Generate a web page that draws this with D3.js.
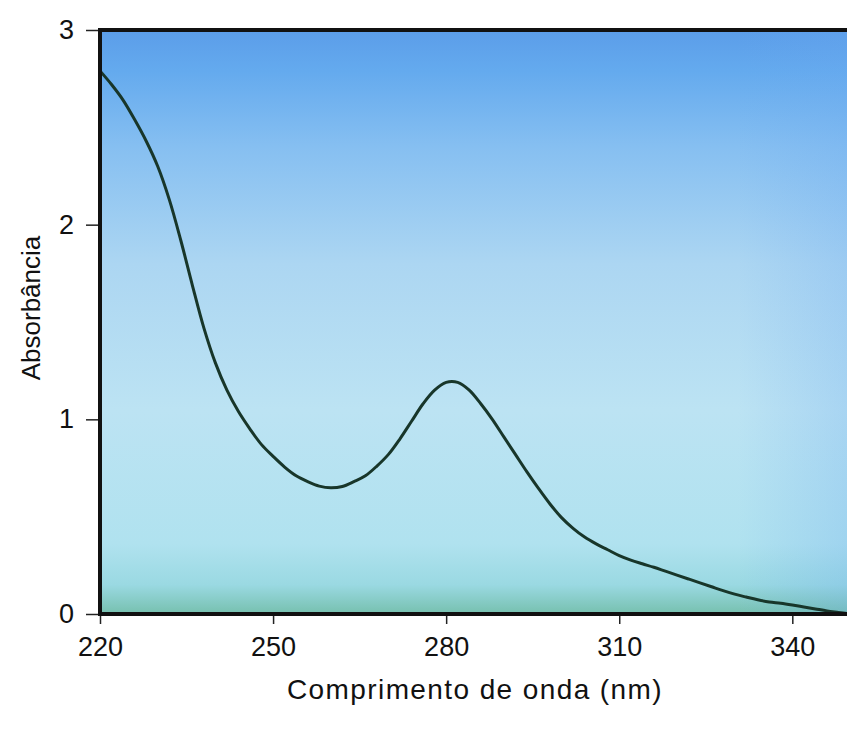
<!DOCTYPE html>
<html>
<head>
<meta charset="utf-8">
<script src="https://cdn.jsdelivr.net/npm/d3@7"></script>
<style>
  body { margin: 0; background: #fff; }
  text { font-family: "Liberation Sans", Arial, sans-serif; fill: #111; }
</style>
</head>
<body>
<div id="chart"></div>
<script>
// wavelengths (nm) and absorbance
var wavelength = [220, 222, 224, 226, 228, 230, 232, 234, 236, 238, 240, 242, 244, 246, 248,
    250, 252, 254, 256, 258, 260, 262, 264, 266, 268, 270, 272, 274, 276, 278,
    280, 282, 284, 286, 288, 290, 292, 294, 296, 298, 300, 302, 304, 306, 308,
    310, 312, 314, 316, 318, 320, 322, 324, 326, 328, 330, 332, 334, 336, 338,
    340, 342, 344, 346, 348, 350];
var absorbance = [2.79, 2.72, 2.64, 2.54, 2.43, 2.30, 2.13, 1.92, 1.69, 1.47, 1.29, 1.15, 1.04, 0.95, 0.87,
    0.81, 0.755, 0.71, 0.68, 0.657, 0.648, 0.655, 0.68, 0.71, 0.76, 0.82, 0.90, 0.99, 1.08, 1.15,
    1.19, 1.19, 1.15, 1.08, 1.00, 0.91, 0.82, 0.73, 0.645, 0.565, 0.495, 0.44, 0.395, 0.36, 0.33,
    0.30, 0.277, 0.258, 0.24, 0.22, 0.20, 0.18, 0.16, 0.14, 0.12, 0.102, 0.087, 0.073, 0.062, 0.055,
    0.046, 0.036, 0.026, 0.016, 0.008, 0];
var xTicks = [220, 250, 280, 310, 340];
var yTicks = [0, 1, 2, 3];

var W = 847, H = 732;
var margin = {top: 30, right: -3, bottom: 118, left: 100},
    width = W - margin.left - margin.right,
    height = H - margin.top - margin.bottom;

var data = wavelength.map(function (w, i) { return {x: w, y: absorbance[i]}; });

var x = d3.scaleLinear().domain([220, 350]).range([0, width]);
var y = d3.scaleLinear().domain([0, 3]).range([height, 0]);

var svg = d3.select("#chart").append("svg")
    .attr("width", W)
    .attr("height", H);

// plot background: blue on top fading to pale cyan, teal band at the bottom
var defs = svg.append("defs");
var grad = defs.append("linearGradient")
    .attr("id", "bg").attr("x1", 0).attr("y1", 0).attr("x2", 0).attr("y2", 1);
[[0, "#5b9de9"], [0.07, "#64aaee"], [0.2, "#86bff1"], [0.4, "#acd6f2"],
 [0.65, "#bce3f3"], [0.88, "#b0e2ef"], [0.95, "#9ad9e2"], [1, "#76c0ae"]]
    .forEach(function (s) {
        grad.append("stop").attr("offset", s[0]).attr("stop-color", s[1]);
    });
var side = defs.append("linearGradient")
    .attr("id", "side").attr("x1", 0).attr("y1", 0).attr("x2", 1).attr("y2", 0);
side.append("stop").attr("offset", 0).attr("stop-color", "#6aa8f0").attr("stop-opacity", 0);
side.append("stop").attr("offset", 0.85).attr("stop-color", "#6aa8f0").attr("stop-opacity", 0);
side.append("stop").attr("offset", 1).attr("stop-color", "#6aa8f0").attr("stop-opacity", 0.25);

var g = svg.append("g")
    .attr("transform", "translate(" + margin.left + "," + margin.top + ")");

g.append("rect").attr("width", width).attr("height", height).attr("fill", "url(#bg)");
g.append("rect").attr("width", width).attr("height", height).attr("fill", "url(#side)");

// the spectrum
var line = d3.line()
    .x(function (d) { return x(d.x); })
    .y(function (d) { return y(d.y); })
    .curve(d3.curveCatmullRom);

g.append("path")
    .datum(data)
    .attr("fill", "none")
    .attr("stroke", "#18362a")
    .attr("stroke-width", 3)
    .attr("d", line);

// frame
g.append("path")
    .attr("d", "M" + (width + 5) + ",0H0V" + height + "H" + (width + 5))
    .attr("fill", "none")
    .attr("stroke", "#111")
    .attr("stroke-width", 4);

// axes
var xAxis = g.append("g")
    .attr("transform", "translate(0," + (height + 2) + ")")
    .call(d3.axisBottom(x).tickValues(xTicks).tickSize(8).tickPadding(13).tickFormat(d3.format("d")));
var yAxis = g.append("g")
    .attr("transform", "translate(-2,0)")
    .call(d3.axisLeft(y).tickValues(yTicks).tickSize(12).tickPadding(12).tickFormat(d3.format("d")));

[xAxis, yAxis].forEach(function (a) {
    a.select(".domain").remove();
    a.selectAll(".tick line").attr("stroke", "#222").attr("stroke-width", 1.5);
    a.selectAll(".tick text")
        .style("font-family", "'Liberation Sans', Arial, sans-serif")
        .style("font-size", "27px")
        .attr("fill", "#111");
});

svg.append("text")
    .attr("x", 475).attr("y", 699)
    .attr("text-anchor", "middle")
    .style("font-size", "28px")
    .style("letter-spacing", "1.4px")
    .text("Comprimento de onda (nm)");

svg.append("text")
    .attr("transform", "translate(40,308) rotate(-90)")
    .attr("text-anchor", "middle")
    .style("font-size", "26px")
    .text("Absorbância");
</script>
</body>
</html>
